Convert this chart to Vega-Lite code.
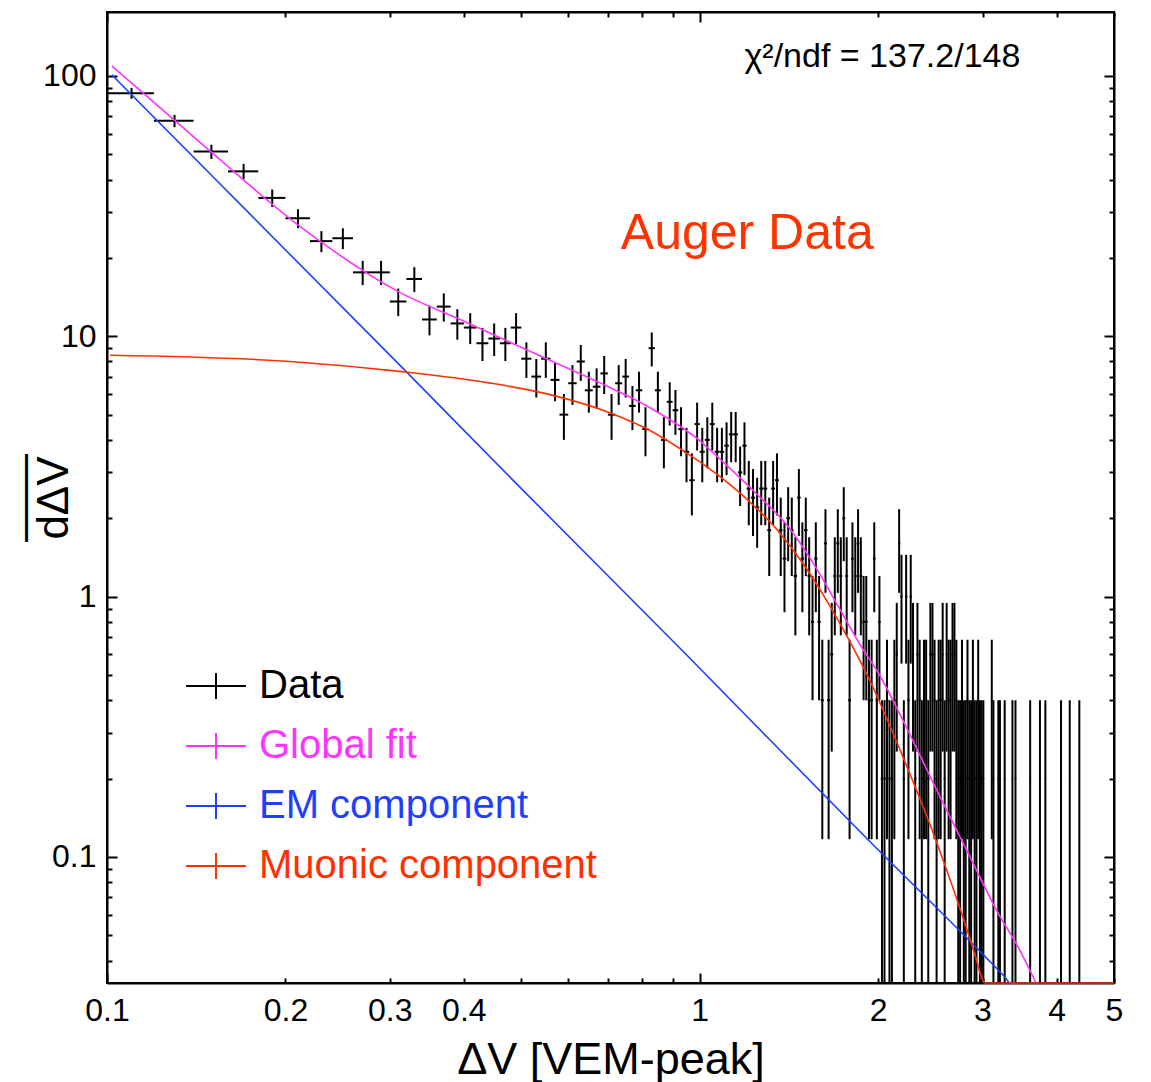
{
"$schema": "https://vega.github.io/schema/vega-lite/v6.json",
"width": 1007, "height": 971,
"autosize": {"type": "none"},
"padding": {"left": 107, "top": 12, "right": 37, "bottom": 99},
"background": "white",
"config": {"view": {"stroke": "black", "strokeWidth": 2}, "font": "Liberation Sans"},
"datasets": {
"hist": [
{"x":0.11,"x0":0.10,"x1":0.12,"y":85.8,"lo":81.66,"hi":89.94},
{"x":0.13,"x0":0.12,"x1":0.14,"y":67.2,"lo":63.53,"hi":70.87},
{"x":0.15,"x0":0.14,"x1":0.16,"y":51.2,"lo":48.0,"hi":54.4},
{"x":0.17,"x0":0.16,"x1":0.18,"y":43.0,"lo":40.07,"hi":45.93},
{"x":0.19,"x0":0.18,"x1":0.20,"y":34.0,"lo":31.39,"hi":36.61},
{"x":0.21,"x0":0.20,"x1":0.22,"y":28.4,"lo":26.02,"hi":30.78},
{"x":0.23,"x0":0.22,"x1":0.24,"y":23.2,"lo":21.05,"hi":25.35},
{"x":0.25,"x0":0.24,"x1":0.26,"y":23.8,"lo":21.62,"hi":25.98},
{"x":0.27,"x0":0.26,"x1":0.28,"y":17.6,"lo":15.72,"hi":19.48},
{"x":0.29,"x0":0.28,"x1":0.30,"y":17.6,"lo":15.72,"hi":19.48},
{"x":0.31,"x0":0.30,"x1":0.32,"y":13.6,"lo":11.95,"hi":15.25},
{"x":0.33,"x0":0.32,"x1":0.34,"y":16.6,"lo":14.78,"hi":18.42},
{"x":0.35,"x0":0.34,"x1":0.36,"y":11.6,"lo":10.08,"hi":13.12},
{"x":0.37,"x0":0.36,"x1":0.38,"y":13.0,"lo":11.39,"hi":14.61},
{"x":0.39,"x0":0.38,"x1":0.40,"y":11.2,"lo":9.70,"hi":12.70},
{"x":0.41,"x0":0.40,"x1":0.42,"y":10.8,"lo":9.33,"hi":12.27},
{"x":0.43,"x0":0.42,"x1":0.44,"y":9.4,"lo":8.03,"hi":10.77},
{"x":0.45,"x0":0.44,"x1":0.46,"y":9.8,"lo":8.4,"hi":11.2},
{"x":0.47,"x0":0.46,"x1":0.48,"y":9.4,"lo":8.03,"hi":10.77},
{"x":0.49,"x0":0.48,"x1":0.50,"y":10.8,"lo":9.33,"hi":12.27},
{"x":0.51,"x0":0.50,"x1":0.52,"y":8.2,"lo":6.92,"hi":9.48},
{"x":0.53,"x0":0.52,"x1":0.54,"y":7.0,"lo":5.82,"hi":8.18},
{"x":0.55,"x0":0.54,"x1":0.56,"y":8.2,"lo":6.92,"hi":9.48},
{"x":0.57,"x0":0.56,"x1":0.58,"y":6.8,"lo":5.63,"hi":7.97},
{"x":0.59,"x0":0.58,"x1":0.60,"y":5.0,"lo":4.0,"hi":6.0},
{"x":0.61,"x0":0.60,"x1":0.62,"y":6.6,"lo":5.45,"hi":7.75},
{"x":0.63,"x0":0.62,"x1":0.64,"y":8.0,"lo":6.74,"hi":9.26},
{"x":0.65,"x0":0.64,"x1":0.66,"y":6.2,"lo":5.09,"hi":7.31},
{"x":0.67,"x0":0.66,"x1":0.68,"y":6.4,"lo":5.27,"hi":7.53},
{"x":0.69,"x0":0.68,"x1":0.70,"y":7.2,"lo":6.0,"hi":8.4},
{"x":0.71,"x0":0.70,"x1":0.72,"y":5.0,"lo":4.0,"hi":6.0},
{"x":0.73,"x0":0.72,"x1":0.74,"y":6.6,"lo":5.45,"hi":7.75},
{"x":0.75,"x0":0.74,"x1":0.76,"y":7.0,"lo":5.82,"hi":8.18},
{"x":0.77,"x0":0.76,"x1":0.78,"y":5.4,"lo":4.36,"hi":6.44},
{"x":0.79,"x0":0.78,"x1":0.80,"y":6.2,"lo":5.09,"hi":7.31},
{"x":0.81,"x0":0.80,"x1":0.82,"y":4.4,"lo":3.46,"hi":5.34},
{"x":0.83,"x0":0.82,"x1":0.84,"y":9.0,"lo":7.66,"hi":10.34},
{"x":0.85,"x0":0.84,"x1":0.86,"y":6.2,"lo":5.09,"hi":7.31},
{"x":0.87,"x0":0.86,"x1":0.88,"y":4.0,"lo":3.11,"hi":4.89},
{"x":0.89,"x0":0.88,"x1":0.90,"y":5.6,"lo":4.54,"hi":6.66},
{"x":0.91,"x0":0.90,"x1":0.92,"y":5.2,"lo":4.18,"hi":6.22},
{"x":0.93,"x0":0.92,"x1":0.94,"y":4.4,"lo":3.46,"hi":5.34},
{"x":0.95,"x0":0.94,"x1":0.96,"y":3.6,"lo":2.75,"hi":4.45},
{"x":0.97,"x0":0.96,"x1":0.98,"y":2.8,"lo":2.05,"hi":3.55},
{"x":0.99,"x0":0.98,"x1":1.00,"y":4.6,"lo":3.64,"hi":5.56},
{"x":1.01,"x0":1.00,"x1":1.02,"y":3.6,"lo":2.75,"hi":4.45},
{"x":1.03,"x0":1.02,"x1":1.04,"y":4.0,"lo":3.11,"hi":4.89},
{"x":1.05,"x0":1.04,"x1":1.06,"y":4.6,"lo":3.64,"hi":5.56},
{"x":1.07,"x0":1.06,"x1":1.08,"y":3.6,"lo":2.75,"hi":4.45},
{"x":1.09,"x0":1.08,"x1":1.10,"y":3.6,"lo":2.75,"hi":4.45},
{"x":1.11,"x0":1.10,"x1":1.12,"y":3.8,"lo":2.93,"hi":4.67},
{"x":1.13,"x0":1.12,"x1":1.14,"y":4.2,"lo":3.28,"hi":5.12},
{"x":1.15,"x0":1.14,"x1":1.16,"y":4.2,"lo":3.28,"hi":5.12},
{"x":1.17,"x0":1.16,"x1":1.18,"y":3.0,"lo":2.23,"hi":3.77},
{"x":1.19,"x0":1.18,"x1":1.20,"y":3.8,"lo":2.93,"hi":4.67},
{"x":1.21,"x0":1.20,"x1":1.22,"y":2.6,"lo":1.88,"hi":3.32},
{"x":1.23,"x0":1.22,"x1":1.24,"y":2.4,"lo":1.71,"hi":3.09},
{"x":1.25,"x0":1.24,"x1":1.26,"y":2.2,"lo":1.54,"hi":2.86},
{"x":1.27,"x0":1.26,"x1":1.28,"y":2.6,"lo":1.88,"hi":3.32},
{"x":1.29,"x0":1.28,"x1":1.30,"y":2.6,"lo":1.88,"hi":3.32},
{"x":1.31,"x0":1.30,"x1":1.32,"y":1.8,"lo":1.2,"hi":2.4},
{"x":1.33,"x0":1.32,"x1":1.34,"y":2.6,"lo":1.88,"hi":3.32},
{"x":1.35,"x0":1.34,"x1":1.36,"y":2.8,"lo":2.05,"hi":3.55},
{"x":1.37,"x0":1.36,"x1":1.38,"y":1.8,"lo":1.2,"hi":2.4},
{"x":1.39,"x0":1.38,"x1":1.40,"y":1.4,"lo":0.871,"hi":1.929},
{"x":1.41,"x0":1.40,"x1":1.42,"y":2.0,"lo":1.368,"hi":2.632},
{"x":1.43,"x0":1.42,"x1":1.44,"y":1.8,"lo":1.2,"hi":2.4},
{"x":1.45,"x0":1.44,"x1":1.46,"y":1.2,"lo":0.71,"hi":1.69},
{"x":1.47,"x0":1.46,"x1":1.48,"y":2.4,"lo":1.71,"hi":3.09},
{"x":1.49,"x0":1.48,"x1":1.50,"y":1.4,"lo":0.871,"hi":1.929},
{"x":1.51,"x0":1.50,"x1":1.52,"y":1.8,"lo":1.2,"hi":2.4},
{"x":1.53,"x0":1.52,"x1":1.54,"y":1.2,"lo":0.71,"hi":1.69},
{"x":1.55,"x0":1.54,"x1":1.56,"y":0.8,"lo":0.4,"hi":1.2},
{"x":1.57,"x0":1.56,"x1":1.58,"y":1.4,"lo":0.871,"hi":1.929},
{"x":1.59,"x0":1.58,"x1":1.60,"y":0.8,"lo":0.4,"hi":1.2},
{"x":1.61,"x0":1.60,"x1":1.62,"y":0.4,"lo":0.117,"hi":0.683},
{"x":1.63,"x0":1.62,"x1":1.64,"y":1.6,"lo":1.034,"hi":2.166},
{"x":1.65,"x0":1.64,"x1":1.66,"y":0.4,"lo":0.117,"hi":0.683},
{"x":1.67,"x0":1.66,"x1":1.68,"y":0.6,"lo":0.254,"hi":0.946},
{"x":1.69,"x0":1.68,"x1":1.70,"y":1.2,"lo":0.71,"hi":1.69},
{"x":1.71,"x0":1.70,"x1":1.72,"y":1.6,"lo":1.034,"hi":2.166},
{"x":1.73,"x0":1.72,"x1":1.74,"y":1.2,"lo":0.71,"hi":1.69},
{"x":1.75,"x0":1.74,"x1":1.76,"y":2.0,"lo":1.368,"hi":2.632},
{"x":1.77,"x0":1.76,"x1":1.78,"y":1.2,"lo":0.71,"hi":1.69},
{"x":1.79,"x0":1.78,"x1":1.80,"y":0.4,"lo":0.117,"hi":0.683},
{"x":1.81,"x0":1.80,"x1":1.82,"y":1.4,"lo":0.871,"hi":1.929},
{"x":1.83,"x0":1.82,"x1":1.84,"y":1.2,"lo":0.71,"hi":1.69},
{"x":1.85,"x0":1.84,"x1":1.86,"y":1.6,"lo":1.034,"hi":2.166},
{"x":1.87,"x0":1.86,"x1":1.88,"y":1.2,"lo":0.71,"hi":1.69},
{"x":1.89,"x0":1.88,"x1":1.90,"y":0.8,"lo":0.4,"hi":1.2},
{"x":1.91,"x0":1.90,"x1":1.92,"y":0.8,"lo":0.4,"hi":1.2},
{"x":1.93,"x0":1.92,"x1":1.94,"y":0.4,"lo":0.117,"hi":0.683},
{"x":1.95,"x0":1.94,"x1":1.96,"y":0.4,"lo":0.117,"hi":0.683},
{"x":1.97,"x0":1.96,"x1":1.98,"y":1.4,"lo":0.871,"hi":1.929},
{"x":1.99,"x0":1.98,"x1":2.00,"y":0.4,"lo":0.117,"hi":0.683},
{"x":2.01,"x0":2.00,"x1":2.02,"y":0.8,"lo":0.4,"hi":1.2},
{"x":2.03,"x0":2.02,"x1":2.04,"y":0.2,"lo":0,"hi":0.4},
{"x":2.05,"x0":2.04,"x1":2.06,"y":0.2,"lo":0,"hi":0.4},
{"x":2.07,"x0":2.06,"x1":2.08,"y":0.4,"lo":0.117,"hi":0.683},
{"x":2.09,"x0":2.08,"x1":2.10,"y":0.2,"lo":0,"hi":0.4},
{"x":2.11,"x0":2.10,"x1":2.12,"y":0.2,"lo":0,"hi":0.4},
{"x":2.13,"x0":2.12,"x1":2.14,"y":0.4,"lo":0.117,"hi":0.683},
{"x":2.15,"x0":2.14,"x1":2.16,"y":0.6,"lo":0.254,"hi":0.946},
{"x":2.17,"x0":2.16,"x1":2.18,"y":1.6,"lo":1.034,"hi":2.166},
{"x":2.19,"x0":2.18,"x1":2.20,"y":1.0,"lo":0.553,"hi":1.447},
{"x":2.21,"x0":2.20,"x1":2.22,"y":0.2,"lo":0,"hi":0.4},
{"x":2.23,"x0":2.22,"x1":2.24,"y":1.0,"lo":0.553,"hi":1.447},
{"x":2.25,"x0":2.24,"x1":2.26,"y":0.4,"lo":0.117,"hi":0.683},
{"x":2.27,"x0":2.26,"x1":2.28,"y":1.0,"lo":0.553,"hi":1.447},
{"x":2.29,"x0":2.28,"x1":2.30,"y":0.6,"lo":0.254,"hi":0.946},
{"x":2.31,"x0":2.30,"x1":2.32,"y":0.2,"lo":0,"hi":0.4},
{"x":2.33,"x0":2.32,"x1":2.34,"y":0.6,"lo":0.254,"hi":0.946},
{"x":2.35,"x0":2.34,"x1":2.36,"y":0.4,"lo":0.117,"hi":0.683},
{"x":2.37,"x0":2.36,"x1":2.38,"y":0.2,"lo":0,"hi":0.4},
{"x":2.39,"x0":2.38,"x1":2.40,"y":0.4,"lo":0.117,"hi":0.683},
{"x":2.41,"x0":2.40,"x1":2.42,"y":0.4,"lo":0.117,"hi":0.683},
{"x":2.43,"x0":2.42,"x1":2.44,"y":0.2,"lo":0,"hi":0.4},
{"x":2.45,"x0":2.44,"x1":2.46,"y":0.6,"lo":0.254,"hi":0.946},
{"x":2.47,"x0":2.46,"x1":2.48,"y":0.6,"lo":0.254,"hi":0.946},
{"x":2.49,"x0":2.48,"x1":2.50,"y":0.4,"lo":0.117,"hi":0.683},
{"x":2.51,"x0":2.50,"x1":2.52,"y":0.2,"lo":0,"hi":0.4},
{"x":2.53,"x0":2.52,"x1":2.54,"y":0.4,"lo":0.117,"hi":0.683},
{"x":2.55,"x0":2.54,"x1":2.56,"y":0.4,"lo":0.117,"hi":0.683},
{"x":2.57,"x0":2.56,"x1":2.58,"y":0.6,"lo":0.254,"hi":0.946},
{"x":2.59,"x0":2.58,"x1":2.60,"y":0.2,"lo":0,"hi":0.4},
{"x":2.61,"x0":2.60,"x1":2.62,"y":0.6,"lo":0.254,"hi":0.946},
{"x":2.63,"x0":2.62,"x1":2.64,"y":0.4,"lo":0.117,"hi":0.683},
{"x":2.65,"x0":2.64,"x1":2.66,"y":0.4,"lo":0.117,"hi":0.683},
{"x":2.67,"x0":2.66,"x1":2.68,"y":0.6,"lo":0.254,"hi":0.946},
{"x":2.69,"x0":2.68,"x1":2.70,"y":0.6,"lo":0.254,"hi":0.946},
{"x":2.71,"x0":2.70,"x1":2.72,"y":0.4,"lo":0.117,"hi":0.683},
{"x":2.73,"x0":2.72,"x1":2.74,"y":0.2,"lo":0,"hi":0.4},
{"x":2.75,"x0":2.74,"x1":2.76,"y":0.2,"lo":0,"hi":0.4},
{"x":2.77,"x0":2.76,"x1":2.78,"y":0.4,"lo":0.117,"hi":0.683},
{"x":2.79,"x0":2.78,"x1":2.80,"y":0.2,"lo":0,"hi":0.4},
{"x":2.81,"x0":2.80,"x1":2.82,"y":0.2,"lo":0,"hi":0.4},
{"x":2.83,"x0":2.82,"x1":2.84,"y":0.4,"lo":0.117,"hi":0.683},
{"x":2.85,"x0":2.84,"x1":2.86,"y":0.2,"lo":0,"hi":0.4},
{"x":2.87,"x0":2.86,"x1":2.88,"y":0.2,"lo":0,"hi":0.4},
{"x":2.89,"x0":2.88,"x1":2.90,"y":0.4,"lo":0.117,"hi":0.683},
{"x":2.91,"x0":2.90,"x1":2.92,"y":0.2,"lo":0,"hi":0.4},
{"x":2.93,"x0":2.92,"x1":2.94,"y":0.2,"lo":0,"hi":0.4},
{"x":2.95,"x0":2.94,"x1":2.96,"y":0.4,"lo":0.117,"hi":0.683},
{"x":2.97,"x0":2.96,"x1":2.98,"y":0.2,"lo":0,"hi":0.4},
{"x":2.99,"x0":2.98,"x1":3.00,"y":0.2,"lo":0,"hi":0.4},
{"x":3.01,"x0":3.00,"x1":3.02,"y":0.2,"lo":0,"hi":0.4},
{"x":3.11,"x0":3.10,"x1":3.12,"y":0.4,"lo":0.117,"hi":0.683},
{"x":3.13,"x0":3.12,"x1":3.14,"y":0.2,"lo":0,"hi":0.4},
{"x":3.19,"x0":3.18,"x1":3.20,"y":0.2,"lo":0,"hi":0.4},
{"x":3.21,"x0":3.20,"x1":3.22,"y":0.2,"lo":0,"hi":0.4},
{"x":3.27,"x0":3.26,"x1":3.28,"y":0.2,"lo":0,"hi":0.4},
{"x":3.37,"x0":3.36,"x1":3.38,"y":0.2,"lo":0,"hi":0.4},
{"x":3.41,"x0":3.40,"x1":3.42,"y":0.2,"lo":0,"hi":0.4},
{"x":3.61,"x0":3.60,"x1":3.62,"y":0.2,"lo":0,"hi":0.4},
{"x":3.75,"x0":3.74,"x1":3.76,"y":0.2,"lo":0,"hi":0.4},
{"x":3.83,"x0":3.82,"x1":3.84,"y":0.2,"lo":0,"hi":0.4},
{"x":4.07,"x0":4.06,"x1":4.08,"y":0.2,"lo":0,"hi":0.4},
{"x":4.21,"x0":4.20,"x1":4.22,"y":0.2,"lo":0,"hi":0.4},
{"x":4.37,"x0":4.36,"x1":4.38,"y":0.2,"lo":0,"hi":0.4}
],
"fits": [
{"s":"Global fit","x":0.1019,"y":109.3},{"s":"Global fit","x":0.1434,"y":55.7},{"s":"Global fit","x":0.2113,"y":26.5},{"s":"Global fit","x":0.3113,"y":14.77},{"s":"Global fit","x":0.4037,"y":11.32},{"s":"Global fit","x":0.5214,"y":8.68},{"s":"Global fit","x":0.676,"y":6.65},{"s":"Global fit","x":0.8206,"y":5.35},{"s":"Global fit","x":0.996,"y":4.0},{"s":"Global fit","x":1.089,"y":3.33},{"s":"Global fit","x":1.243,"y":2.5},{"s":"Global fit","x":1.412,"y":1.85},{"s":"Global fit","x":1.568,"y":1.3},{"s":"Global fit","x":1.714,"y":0.915},{"s":"Global fit","x":1.874,"y":0.642},{"s":"Global fit","x":2.001,"y":0.51},{"s":"Global fit","x":2.188,"y":0.3455},{"s":"Global fit","x":2.496,"y":0.186},{"s":"Global fit","x":2.837,"y":0.1035},{"s":"Global fit","x":3.187,"y":0.0609},{"s":"Global fit","x":3.444,"y":0.0451},{"s":"Global fit","x":3.693,"y":0.0328},
{"s":"EM component","x":0.1019,"y":100.9},{"s":"EM component","x":0.3113,"y":7.78},{"s":"EM component","x":0.4826,"y":2.82},{"s":"EM component","x":0.958,"y":0.586},{"s":"EM component","x":1.925,"y":0.1162},{"s":"EM component","x":3.07,"y":0.0402},{"s":"EM component","x":3.275,"y":0.0345},{"s":"EM component","x":3.34,"y":0.0325},{"s":"EM component","x":3.41,"y":0.031},
{"s":"Muonic component","x":0.1012,"y":8.45},{"s":"Muonic component","x":0.2033,"y":8.0},{"s":"Muonic component","x":0.3113,"y":7.33},{"s":"Muonic component","x":0.4414,"y":6.62},{"s":"Muonic component","x":0.557,"y":5.98},{"s":"Muonic component","x":0.7027,"y":5.1},{"s":"Muonic component","x":0.8047,"y":4.47},{"s":"Muonic component","x":0.958,"y":3.52},{"s":"Muonic component","x":1.089,"y":2.86},{"s":"Muonic component","x":1.243,"y":2.2},{"s":"Muonic component","x":1.358,"y":1.78},{"s":"Muonic component","x":1.508,"y":1.3},{"s":"Muonic component","x":1.649,"y":0.94},{"s":"Muonic component","x":1.781,"y":0.69},{"s":"Muonic component","x":1.925,"y":0.49},{"s":"Muonic component","x":2.188,"y":0.251},{"s":"Muonic component","x":2.496,"y":0.118},{"s":"Muonic component","x":2.837,"y":0.051},{"s":"Muonic component","x":2.91,"y":0.0425},{"s":"Muonic component","x":3.03,"y":0.0315},{"s":"Muonic component","x":3.2,"y":0.02},{"s":"Muonic component","x":4.0,"y":0.003},{"s":"Muonic component","x":5.0,"y":0.0004}
]
},
"layer": [
{"layer": [
{"data": {"name": "hist"},
 "mark": {"type": "rule", "color": "black", "strokeWidth": 2},
 "encoding": {
  "x": {"field": "x", "type": "quantitative",
   "scale": {"type": "log", "domain": [0.1, 5], "nice": false},
   "axis": {"orient": "bottom", "title": "ΔV [VEM-peak]", "grid": false,
    "values": [0.1,0.2,0.3,0.4,0.5,0.6,0.7,0.8,0.9,1,2,3,4,5],
    "labelExpr": "indexof([0.1,0.2,0.3,0.4,1,2,3,4,5], datum.value) >= 0 ? '' + datum.value : ''",
    "tickSize": {"condition": {"test": "datum.value === 1 || datum.value === 0.1", "value": -10}, "value": -5},
    "labelPadding": {"condition": {"test": "datum.value === 1 || datum.value === 0.1", "value": 47}, "value": 42},
    "tickWidth": 2, "tickColor": "black", "domainColor": "black", "domainWidth": 2,
    "labelFont": "Liberation Sans", "labelFontSize": 32, "labelColor": "black", "labelBaseline": "alphabetic",
    "labelFlush": false, "labelOverlap": false, "labelBound": false,
    "titleFont": "Liberation Sans", "titleFontSize": 45, "titleFontWeight": "normal", "titleColor": "black",
    "titleBaseline": "alphabetic", "titleAlign": "center", "titleX": 503.5, "titleY": 90}},
  "y": {"field": "lo", "type": "quantitative",
   "scale": {"type": "log", "domain": [0.0328, 176], "nice": false, "clamp": true},
   "axis": {"orient": "left", "grid": false, "title": ["——", "dΔV"],
    "values": [0.04,0.05,0.06,0.07,0.08,0.09,0.1,0.2,0.3,0.4,0.5,0.6,0.7,0.8,0.9,1,2,3,4,5,6,7,8,9,10,20,30,40,50,60,70,80,90,100],
    "labelExpr": "datum.value === 0.1 || datum.value === 1 || datum.value === 10 || datum.value === 100 ? '' + datum.value : ''",
    "tickSize": {"condition": {"test": "datum.value === 0.1 || datum.value === 1 || datum.value === 10 || datum.value === 100", "value": -10}, "value": -5},
    "labelPadding": 21,
    "tickWidth": 2, "tickColor": "black", "domainColor": "black", "domainWidth": 2,
    "labelFont": "Liberation Sans", "labelFontSize": 32, "labelColor": "black", "labelBaseline": "middle", "labelAlign": "right",
    "labelOverlap": false, "labelBound": false, "labelFlush": false,
    "titleFont": "Liberation Sans", "titleFontSize": 44, "titleFontWeight": "normal", "titleColor": "black",
    "titleAngle": -90, "titleAlign": "center", "titleBaseline": "alphabetic", "titleX": -70, "titleY": 485.5, "titleLineHeight": 30}},
  "y2": {"field": "hi"}
 }},
{"data": {"name": "hist"},
 "mark": {"type": "rule", "color": "black", "strokeWidth": 2},
 "encoding": {
  "x": {"field": "x0", "type": "quantitative"},
  "x2": {"field": "x1"},
  "y": {"field": "y", "type": "quantitative"}
 }},
{"data": {"name": "fits"},
 "mark": {"type": "line", "strokeWidth": 1.6, "interpolate": "monotone"},
 "encoding": {
  "x": {"field": "x", "type": "quantitative"},
  "y": {"field": "y", "type": "quantitative"},
  "color": {"field": "s", "type": "nominal",
   "scale": {"domain": ["Data", "Global fit", "EM component", "Muonic component"], "range": ["#000000", "#ff33ff", "#1f3fff", "#ff3000"]},
   "legend": {"title": null, "orient": "none", "legendX": 78, "legendY": 643, "direction": "vertical",
    "padding": 0, "rowPadding": 9,
    "symbolType": "M-1,0L1,0M0,-0.43L0,0.43", "symbolSize": 3600, "symbolStrokeWidth": 2,
    "labelFont": "Liberation Sans", "labelFontSize": 40, "labelOffset": 12, "labelLimit": 0, "labelBaseline": "middle",
    "encode": {
     "symbols": {"update": {"stroke": {"scale": "color", "field": "value"}, "fill": {"value": "transparent"}, "strokeWidth": {"value": 2}}},
     "labels": {"update": {"fill": {"scale": "color", "field": "value"}}}
    }}}
 }},
{"data": {"values": [{}]},
 "mark": {"type": "text", "text": "Auger Data", "font": "Liberation Sans", "fontSize": 50, "color": "#ff3300", "align": "left", "baseline": "alphabetic"},
 "encoding": {
  "x": {"datum": 0.736, "type": "quantitative"},
  "y": {"datum": 21.6, "type": "quantitative"}
 }}
]},
{"data": {"values": [{}]},
 "mark": {"type": "text", "text": "χ²/ndf = 137.2/148", "font": "Liberation Sans", "fontSize": 34, "color": "black", "align": "left", "baseline": "alphabetic"},
 "encoding": {
  "x": {"datum": 1.19, "type": "quantitative",
   "axis": {"orient": "top", "title": null, "labels": false, "grid": false,
    "values": [0.1,0.2,0.3,0.4,0.5,0.6,0.7,0.8,0.9,1,2,3,4,5],
    "tickSize": {"condition": {"test": "datum.value === 1 || datum.value === 0.1", "value": -10}, "value": -5},
    "tickWidth": 2, "tickColor": "black", "domainColor": "black", "domainWidth": 2}},
  "y": {"datum": 108.3, "type": "quantitative",
   "axis": {"orient": "right", "title": null, "labels": false, "grid": false,
    "values": [0.04,0.05,0.06,0.07,0.08,0.09,0.1,0.2,0.3,0.4,0.5,0.6,0.7,0.8,0.9,1,2,3,4,5,6,7,8,9,10,20,30,40,50,60,70,80,90,100],
    "tickSize": {"condition": {"test": "datum.value === 0.1 || datum.value === 1 || datum.value === 10 || datum.value === 100", "value": -10}, "value": -5},
    "tickWidth": 2, "tickColor": "black", "domainColor": "black", "domainWidth": 2}}
 }}
],
"resolve": {"axis": {"x": "independent", "y": "independent"}}
}
